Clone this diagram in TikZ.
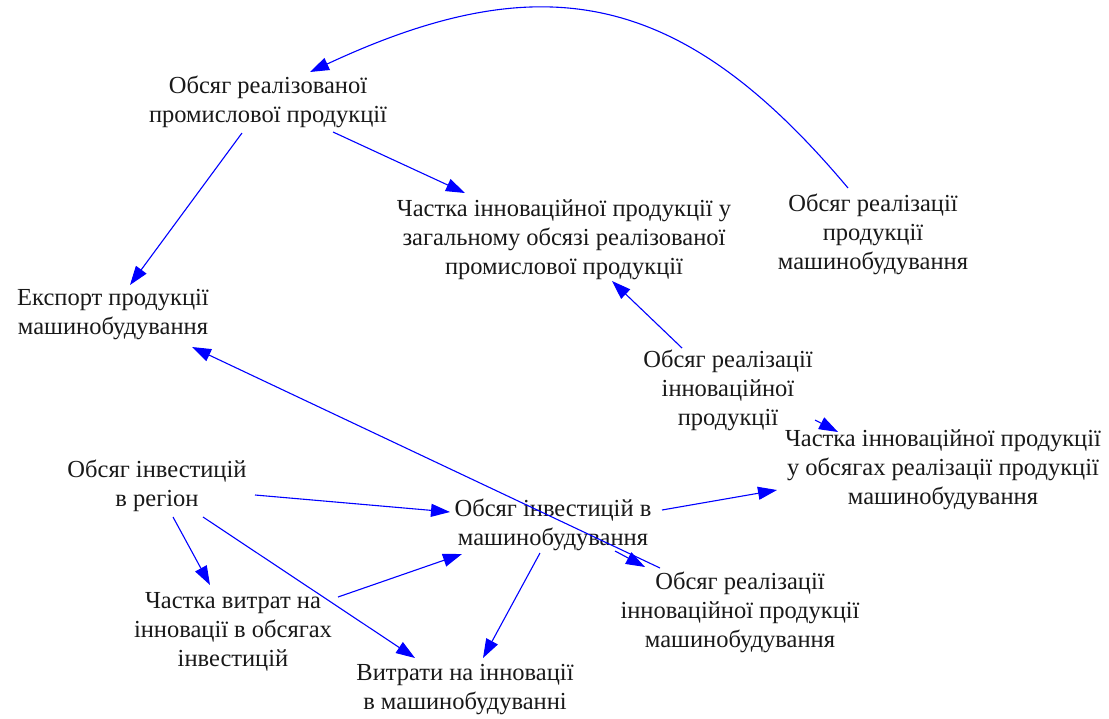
\documentclass[tikz,border=0pt]{standalone}
\usepackage{fontspec}
\setmainfont{Liberation Serif}
\usetikzlibrary{arrows.meta,calc}
\definecolor{linkblue}{RGB}{0,0,255}
\begin{document}
\begin{tikzpicture}[x=1pt,y=1pt,
  lbl/.style={align=center, font=\fontsize{24.5}{29}\selectfont, inner sep=0pt, text=black!90},
  arr/.style={draw=linkblue, line width=1.1pt, -{Triangle[length=19pt,width=13pt,fill=linkblue]}}]
\useasboundingbox[fill=white] (0,0) rectangle (1109,-718);
\node[lbl] (A) at (268,-102) {Обсяг реалізованої\\промислової продукції};
\node[lbl] (B) at (564,-240) {Частка інноваційної продукції у\\загальному обсязі реалізованої\\промислової продукції};
\node[lbl] (C) at (873,-234) {Обсяг реалізації\\продукції\\машинобудування};
\node[lbl] (D) at (113,-315) {Експорт продукції\\машинобудування};
\node[lbl] (E) at (728,-390) {Обсяг реалізації\\інноваційної\\продукції};
\node[lbl] (F) at (943,-470) {Частка інноваційної продукції\\у обсягах реалізації продукції\\машинобудування};
\node[lbl] (G) at (157,-486) {Обсяг інвестицій\\в регіон};
\node[lbl] (H) at (553,-525) {Обсяг інвестицій в\\машинобудування};
\node[lbl] (I) at (233,-632) {Частка витрат на\\інновації в обсягах\\інвестицій};
\node[lbl] (J) at (465,-690) {Витрати на інновації\\в машинобудуванні};
\node[lbl] (K) at (740,-612) {Обсяг реалізації\\інноваційної продукції\\машинобудування};

\draw[arr] ($(C)+(-25,46)$) to[out=130,in=25,looseness=1.2] ($(A)+(42,30)$);
\draw[arr] ($(A)+(-26,-31)$) -- ($(D)+(17,30)$);
\draw[arr] ($(A)+(65,-30)$) -- ($(B)+(-99,47)$);
\draw[arr] ($(E)+(-46,42)$) -- ($(B)+(48,-41)$);
\draw[arr] ($(E)+(87,-30)$) -- ($(F)+(-105,38)$);
\draw[arr] ($(G)+(98,-9)$) -- ($(H)+(-103,13)$);
\draw[arr] ($(G)+(16,-31)$) -- ($(I)+(-23,47)$);
\draw[arr] ($(G)+(46,-31)$) -- ($(J)+(-50,32)$);
\draw[arr] ($(I)+(105,35)$) -- ($(H)+(-91,-29)$);
\draw[arr] ($(H)+(-13,-28)$) -- ($(J)+(18,32)$);
\draw[arr] ($(H)+(109,15)$) -- ($(F)+(-166,-20)$);
\draw[arr] ($(K)+(-80,44)$) -- ($(D)+(79,-32)$);
\draw[arr] ($(H)+(62,-26)$) -- ($(K)+(-95,45)$);
\end{tikzpicture}
\end{document}
